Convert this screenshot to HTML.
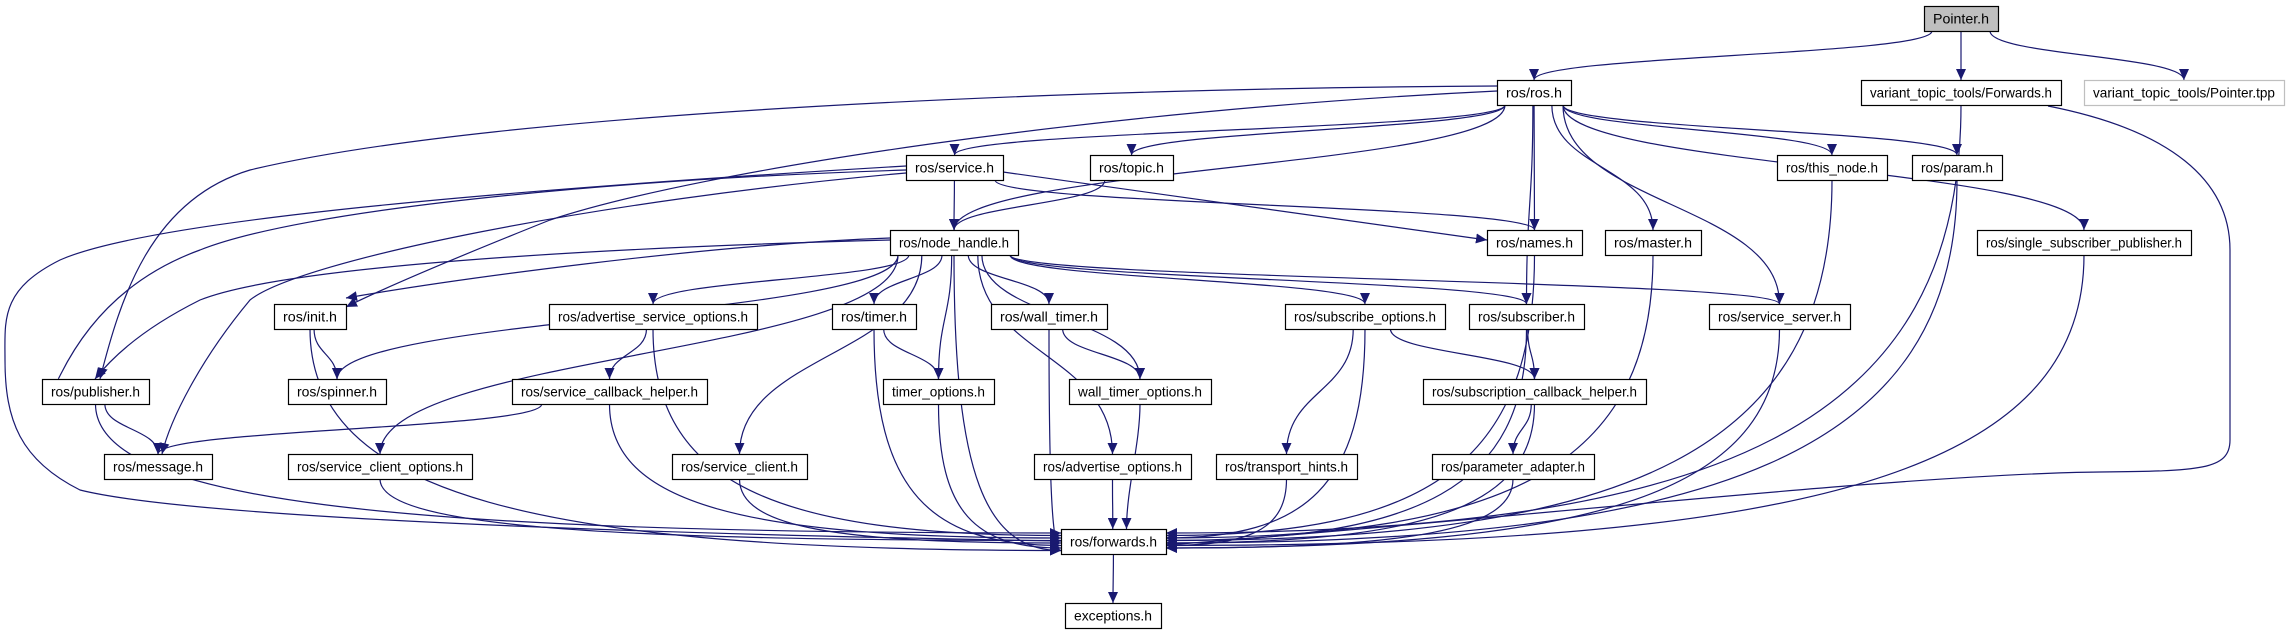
<!DOCTYPE html>
<html><head><meta charset="utf-8"><style>
html,body{margin:0;padding:0;background:#fff;width:2289px;height:635px;overflow:hidden}
svg{display:block}
text{font-family:"Liberation Sans",sans-serif;font-size:14px;fill:#000}
</style></head><body>
<svg id="g" width="2289" height="635" xmlns="http://www.w3.org/2000/svg">
<defs><marker id="a" markerUnits="userSpaceOnUse" markerWidth="12" markerHeight="10" refX="11" refY="5" orient="auto"><path d="M0,0 L11,5 L0,10 z" fill="#191970"/></marker></defs>
<g id="e" fill="none" stroke="#191970" stroke-width="1.2"></g>
<g id="n"></g>
</svg>
<script>
var H=25;
var N={
P:["Pointer.h",1924,6,74],
VF:["variant_topic_tools/Forwards.h",1861,80,200],
VT:["variant_topic_tools/Pointer.tpp",2084,80,200],
ROS:["ros/ros.h",1497,80,74],
SV:["ros/service.h",906,155,97],
TP:["ros/topic.h",1090,155,83],
TN:["ros/this_node.h",1777,155,110],
PA:["ros/param.h",1912,155,90],
NH:["ros/node_handle.h",890,230,128],
NM:["ros/names.h",1487,230,95],
MA:["ros/master.h",1605,230,96],
SSP:["ros/single_subscriber_publisher.h",1977,230,214],
IN:["ros/init.h",274,304,72],
ASO:["ros/advertise_service_options.h",549,304,208],
TI:["ros/timer.h",832,304,84],
WT:["ros/wall_timer.h",991,304,116],
SO:["ros/subscribe_options.h",1285,304,160],
SU:["ros/subscriber.h",1469,304,115],
SS:["ros/service_server.h",1709,304,141],
PU:["ros/publisher.h",42,379,107],
SP:["ros/spinner.h",288,379,98],
SCH:["ros/service_callback_helper.h",512,379,195],
TO:["timer_options.h",883,379,111],
WTO:["wall_timer_options.h",1069,379,142],
SBH:["ros/subscription_callback_helper.h",1423,379,223],
MS:["ros/message.h",104,454,108],
SCO:["ros/service_client_options.h",288,454,184],
SC:["ros/service_client.h",672,454,135],
AO:["ros/advertise_options.h",1034,454,157],
TH:["ros/transport_hints.h",1216,454,141],
PAD:["ros/parameter_adapter.h",1432,454,162],
F:["ros/forwards.h",1061,529,105],
EX:["exceptions.h",1065,603,96]
};
var E=[["P","ROS"],["P","VF"],["P","VT"],["ROS","SV"],["ROS","TP"],["ROS","NH"],["ROS","NM"],["ROS","MA"],["ROS","SU"],["ROS","SS"],["ROS","TN"],["ROS","PA"],["ROS","SSP"],
["SV","NH"],["SV","NM"],["TP","NH"],["NH","TI"],["NH","TO"],["NH","WT"],["NH","WTO"],["NH","AO"],["NH","SO"],["NH","SU"],["NH","SS"],["NH","SC"],["NH","SCO"],["NH","ASO"],["NH","SP"],
["IN","SP"],["PU","MS"],["ASO","SCH"],["SCH","MS"],["TI","TO"],["WT","WTO"],["SO","TH"],["SO","SBH"],["SU","SBH"],["SBH","PAD"],["F","EX"]];
var toF=["VF","NM","MA","TN","PA","SSP","SS","IN","PU","ASO","SCH","SCO","SC","TI","TO","WT","WTO","AO","SO","SU","SBH","TH","PAD","NH"];
var eg=document.getElementById("e"),ng=document.getElementById("n");
function P(d){var p=document.createElementNS("http://www.w3.org/2000/svg","path");p.setAttribute("d",d);p.setAttribute("marker-end","url(#a)");eg.appendChild(p);}
function bc(k){var n=N[k];return [n[1]+n[3]/2,n[2]+H];}
function tc(k){var n=N[k];return [n[1]+n[3]/2,n[2]];}
E.forEach(function(e){var s=N[e[0]],t=N[e[1]];var a,b;
 if(s[2]==t[2]){ // same row
  a=[s[1]+s[3],s[2]+H/2];b=[t[1],t[2]+H/2];P("M"+a+" L"+b);return;}
 a=bc(e[0]);b=tc(e[1]);
 var sx=a[0]+(b[0]-a[0])*0.15;a[0]=Math.max(s[1]+8,Math.min(s[1]+s[3]-8,sx));
 var m=(b[1]-a[1])*0.5;
 P("M"+a+" C"+a[0]+","+(a[1]+m)+" "+b[0]+","+(b[1]-m)+" "+b);});
// service.h -> names.h
P("M1003,172 C1200,200 1380,225 1487,240");
toF.forEach(function(k,i){var s=N[k];var a=bc(k);var fx=1113;
 var d=a[0]-fx;var ey=533+(i%8)*2.5;var b;
 if(Math.abs(d)<60){b=[fx+d*0.5,529];P("M"+a+" C"+a[0]+","+(a[1]+40)+" "+b[0]+","+(b[1]-40)+" "+b);return;}
 b=d<0?[1061,ey]:[1166,ey];
 var c1y=a[1]+(ey-a[1])*0.75;
 P("M"+a+" C"+a[0]+","+c1y+" "+(a[0]+(b[0]-a[0])*0.3)+","+ey+" "+b);});
// long curves
P("M1497,86 C1100,88 500,110 250,170 C150,200 120,300 100,379");
P("M1497,91 C1100,110 700,170 550,220 C450,260 380,290 346,307");
P("M906,170 C600,180 300,210 200,250 C90,290 60,380 58,379");
P("M906,173 C600,200 300,260 250,300 C200,360 170,420 162,454");
P("M906,166 C500,190 150,220 60,260 C0,290 5,320 5,360 C5,420 20,460 80,490 C200,520 700,535 1061,541");
P("M890,240 C700,245 300,260 200,300 C140,330 110,360 95,379");
P("M890,238 C700,245 450,280 346,298");
P("M2048,106 C2170,130 2230,180 2230,250 L2230,440 C2230,470 2200,471 2100,472 C1900,474 1500,520 1166,545");
var S="http://www.w3.org/2000/svg";
for(var k in N){var n=N[k];var r=document.createElementNS(S,"rect");r.setAttribute("x",n[1]+0.5);r.setAttribute("y",n[2]+0.5);r.setAttribute("width",n[3]);r.setAttribute("height",H);
 r.setAttribute("fill",k=="P"?"#bfbfbf":"#fff");r.setAttribute("stroke",k=="VT"?"#bfbfbf":"#000");r.setAttribute("stroke-width","1.2");ng.appendChild(r);
 var t=document.createElementNS(S,"text");t.setAttribute("x",n[1]+n[3]/2);t.setAttribute("y",n[2]+17.5);t.setAttribute("text-anchor","middle");
 t.setAttribute("textLength",n[3]-18);t.setAttribute("lengthAdjust","spacingAndGlyphs");t.textContent=n[0];ng.appendChild(t);}
</script>
</body></html>
